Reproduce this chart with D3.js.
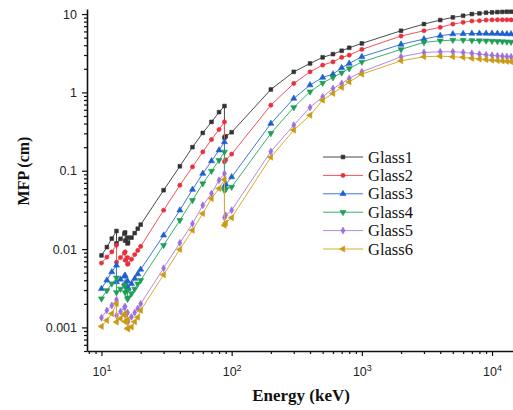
<!DOCTYPE html>
<html><head><meta charset="utf-8">
<script src="https://cdn.jsdelivr.net/npm/d3@7"></script>
<style>body{margin:0;background:#fff;} svg{display:block;}</style>
</head><body><svg id="chart" width="513" height="410"></svg>
<script>
const energies = [10, 11, 12, 13.04, 13.04, 14, 15, 15.2, 15.2, 15.86, 15.86, 16, 17, 18, 19, 20, 30, 40, 50, 60, 70, 80, 88, 88, 90, 100, 200, 300, 400, 500, 600, 700, 800, 1000, 2000, 3000, 4000, 5000, 6000, 7000, 8000, 9000, 10000, 11000, 12000, 13000, 14000, 15000];
const glass1 = [0.0083, 0.0106, 0.0136, 0.0170, 0.0118, 0.0135, 0.0158, 0.0163, 0.0128, 0.0140, 0.0118, 0.0121, 0.0140, 0.0160, 0.0182, 0.0205, 0.0564, 0.114, 0.200, 0.304, 0.420, 0.560, 0.670, 0.265, 0.275, 0.310, 1.09, 1.83, 2.34, 2.80, 3.08, 3.40, 3.71, 4.22, 6.12, 7.45, 8.38, 9.07, 9.51, 10.0, 10.2, 10.4, 10.5, 10.6, 10.65, 10.7, 10.7, 10.7];
const glass2 = [0.00664, 0.0079, 0.0092, 0.0112, 0.0068, 0.0078, 0.0089, 0.0092, 0.0072, 0.0078, 0.0064, 0.0065, 0.0074, 0.0085, 0.0096, 0.0108, 0.0313, 0.0653, 0.112, 0.174, 0.250, 0.336, 0.420, 0.130, 0.138, 0.163, 0.687, 1.30, 1.83, 2.23, 2.45, 2.80, 2.99, 3.54, 5.24, 6.12, 6.76, 7.45, 7.83, 8.15, 8.21, 8.38, 8.42, 8.45, 8.45, 8.45, 8.43, 8.40];
const glass3 = [0.00312, 0.0040, 0.0051, 0.0062, 0.0038, 0.0041, 0.0045, 0.0046, 0.0036, 0.0039, 0.0031, 0.0032, 0.0036, 0.0042, 0.0048, 0.0055, 0.0150, 0.0313, 0.0575, 0.092, 0.133, 0.183, 0.233, 0.063, 0.067, 0.083, 0.40, 0.837, 1.24, 1.55, 1.71, 2.06, 2.34, 2.85, 4.10, 4.80, 5.29, 5.55, 5.60, 5.65, 5.65, 5.65, 5.65, 5.63, 5.60, 5.58, 5.56, 5.54];
const glass4 = [0.00233, 0.00297, 0.00362, 0.0043, 0.0028, 0.0031, 0.0034, 0.0035, 0.0028, 0.0030, 0.0023, 0.0024, 0.0027, 0.0031, 0.0036, 0.0040, 0.0112, 0.0233, 0.042, 0.0686, 0.099, 0.136, 0.174, 0.056, 0.058, 0.062, 0.30, 0.643, 1.02, 1.32, 1.55, 1.78, 2.02, 2.45, 3.54, 4.35, 4.56, 4.65, 4.65, 4.61, 4.58, 4.55, 4.52, 4.49, 4.46, 4.43, 4.40, 4.37];
const glass5 = [0.00133, 0.00165, 0.00191, 0.00226, 0.00142, 0.0016, 0.0018, 0.00185, 0.00145, 0.00155, 0.00117, 0.0012, 0.00136, 0.00155, 0.00175, 0.0020, 0.0057, 0.0120, 0.0211, 0.0362, 0.0511, 0.0757, 0.092, 0.0252, 0.027, 0.0313, 0.176, 0.382, 0.643, 0.877, 1.12, 1.30, 1.51, 1.83, 2.85, 3.24, 3.30, 3.30, 3.24, 3.15, 3.08, 3.02, 2.97, 2.93, 2.90, 2.87, 2.85, 2.83];
const glass6 = [0.00103, 0.00123, 0.0015, 0.0020, 0.00117, 0.0013, 0.00145, 0.0015, 0.00118, 0.00125, 0.00096, 0.00098, 0.00101, 0.00118, 0.00135, 0.00165, 0.0047, 0.0099, 0.0174, 0.0284, 0.0442, 0.0593, 0.0773, 0.0201, 0.0215, 0.0252, 0.149, 0.33, 0.51, 0.796, 0.97, 1.16, 1.36, 1.71, 2.53, 2.85, 2.90, 2.85, 2.80, 2.72, 2.67, 2.62, 2.58, 2.55, 2.52, 2.49, 2.47, 2.45];
const seriesNames = ["Glass1", "Glass2", "Glass3", "Glass4", "Glass5", "Glass6"];
const yTickValues = [0.001, 0.01, 0.1, 1, 10];
const yTickLabels = ["0.001", "0.01", "0.1", "1", "10"];
const xTickValues = [10, 100, 1000, 10000];
const xTickExponents = ["1", "2", "3", "4"];
const xTitle = "Energy (keV)";
const yTitle = "MFP (cm)";

const seriesValues = [glass1, glass2, glass3, glass4, glass5, glass6];
const lineColors = ["#4a4a4a", "#f2535d", "#3c78d8", "#35b26b", "#b48ae8", "#d8ad2e"];
const markColors = ["#333333", "#e8303c", "#1f5fcf", "#1f9d57", "#9c6fe0", "#c99a12"];
const symbolTypes = [d3.symbolSquare, d3.symbolCircle, d3.symbolTriangle, d3.symbolTriangle, d3.symbolDiamond, d3.symbolTriangle];
const symbolRot = [0, 0, 0, 180, 0, -90];
const symbolSize = [14, 14, 16, 16, 14, 16];

const svg = d3.select("#chart");
const x = d3.scaleLog().domain([7.74, 14490]).range([87, 513]);
const y = d3.scaleLog().domain([0.0005, 11.6]).range([351, 9]);

function minors(lo, hi) {
  const out = [];
  for (let p = -5; p <= 5; p++) for (let m = 2; m <= 9; m++) {
    const v = m * Math.pow(10, p);
    if (v >= lo && v <= hi) out.push(v);
  }
  return out;
}

// X axis
const gx = svg.append("g").attr("transform", "translate(0,351)");
gx.call(d3.axisBottom(x).tickValues(minors(7.74, 14490)).tickSize(3).tickSizeOuter(0).tickFormat(""));
const gx2 = svg.append("g").attr("transform", "translate(0,351)");
gx2.call(d3.axisBottom(x).tickValues(xTickValues).tickSize(5).tickSizeOuter(0).tickFormat(""));
gx2.select(".domain").remove();
gx2.selectAll(".tick").each(function(d, i) {
  const t = d3.select(this).append("text").attr("y", 25).attr("fill", "#222")
    .attr("text-anchor", "middle").style("font-family", "Liberation Sans, Arial, sans-serif").style("font-size", "12.5px");
  t.append("tspan").text("10");
  t.append("tspan").attr("dy", -5).style("font-size", "9px").text(xTickExponents[i]);
});

// Y axis
const gy = svg.append("g").attr("transform", "translate(87,0)");
gy.call(d3.axisLeft(y).tickValues(minors(0.0005, 11.6)).tickSize(3).tickSizeOuter(0).tickFormat(""));
const gy2 = svg.append("g").attr("transform", "translate(87,0)");
gy2.call(d3.axisLeft(y).tickValues(yTickValues).tickSize(5).tickSizeOuter(0).tickFormat((d, i) => yTickLabels[i]));
gy2.select(".domain").remove();
gy2.selectAll("text").attr("x", -10).attr("fill", "#222")
  .style("font-family", "Liberation Sans, Arial, sans-serif").style("font-size", "12.5px");

svg.selectAll(".domain").attr("stroke", "#111").attr("stroke-width", 1.6);
svg.selectAll(".tick line").attr("stroke", "#111").attr("stroke-width", 1.2);

// Titles
svg.append("text").attr("x", 301).attr("y", 401).attr("text-anchor", "middle")
  .style("font-family", "Liberation Serif, Times New Roman, serif").style("font-weight", "bold").style("font-size", "17px")
  .attr("fill", "#111").text(xTitle);
svg.append("text").attr("transform", "translate(29,171) rotate(-90)").attr("text-anchor", "middle")
  .style("font-family", "Liberation Serif, Times New Roman, serif").style("font-weight", "bold").style("font-size", "16px")
  .attr("fill", "#111").text(yTitle);

// Series
const line = d3.line().x(d => x(d.e)).y(d => y(d.v));
seriesValues.forEach((vals, s) => {
  const data = energies.map((e, i) => ({e: e, v: vals[i]}));
  const g = svg.append("g");
  g.append("path").datum(data).attr("d", line).attr("fill", "none")
    .attr("stroke", lineColors[s]).attr("stroke-width", 1);
  const sym = d3.symbol().type(symbolTypes[s]).size(symbolSize[s]);
  g.selectAll("path.m").data(data).enter().append("path").attr("class", "m")
    .attr("d", sym)
    .attr("transform", d => `translate(${x(d.e)},${y(d.v)}) rotate(${symbolRot[s]})`)
    .attr("fill", markColors[s]).attr("stroke", markColors[s]).attr("stroke-width", 0.6);
});

// Legend
const legend = svg.append("g");
seriesNames.forEach((name, s) => {
  const ly = 157 + s * 18.4;
  legend.append("line").attr("x1", 323).attr("x2", 363).attr("y1", ly).attr("y2", ly)
    .attr("stroke", lineColors[s]).attr("stroke-width", 1);
  legend.append("path").attr("d", d3.symbol().type(symbolTypes[s]).size(symbolSize[s]))
    .attr("transform", `translate(343,${ly}) rotate(${symbolRot[s]})`)
    .attr("fill", markColors[s]).attr("stroke", markColors[s]).attr("stroke-width", 0.6);
  legend.append("text").attr("x", 368).attr("y", ly + 5.5)
    .style("font-family", "Liberation Serif, Times New Roman, serif").style("font-size", "16.5px")
    .attr("fill", "#111").text(name);
});
</script></body></html>
